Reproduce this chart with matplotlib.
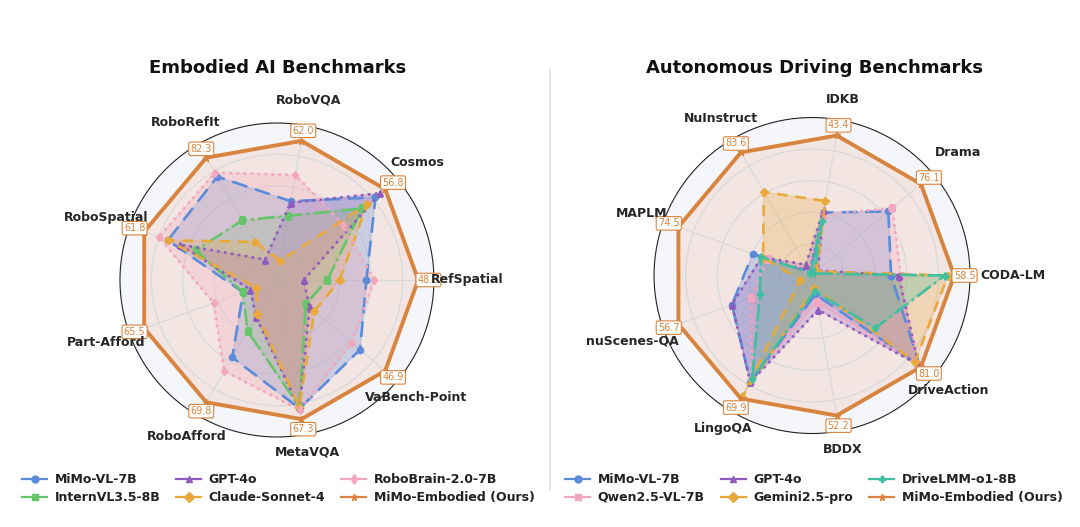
import numpy as np
import matplotlib
matplotlib.use("Agg")
import matplotlib.pyplot as plt
from matplotlib.lines import Line2D

# ---------------- data ----------------
emb_axes = ["RefSpatial", "Cosmos", "RoboVQA", "RoboRefIt", "RoboSpatial",
            "Part-Afford", "RoboAfford", "MetaVQA", "VaBench-Point"]
emb_ours = [48.0, 56.8, 62.0, 82.3, 61.8, 65.5, 69.8, 67.3, 46.9]
emb_mimo_vl = [30.4, 51.7, 35.1, 69.5, 50.8, 16.7, 44.2, 62.1, 36.0]
emb_internvl = [17.1, 44.8, 28.6, 40.2, 37.8, 16.7, 29.1, 61.3, 12.5]
emb_gpt4o = [9.1, 54.3, 34.4, 13.7, 45.3, 13.1, 20.9, 62.1, 14.1]
emb_claude = [21.3, 47.3, 8.6, 25.6, 50.8, 10.2, 19.4, 61.3, 16.2]
emb_robobrain = [33.1, 34.7, 46.8, 72.2, 54.9, 31.3, 52.0, 62.8, 32.3]

drv_axes = ["CODA-LM", "Drama", "IDKB", "NuInstruct", "MAPLM",
            "nuScenes-QA", "LingoQA", "BDDX", "DriveAction"]
drv_ours = [58.5, 76.1, 43.4, 83.6, 74.5, 56.7, 69.9, 52.2, 81.0]
drv_mimo_vl = [32.5, 53.3, 19.5, 2.8, 33.1, 34.0, 60.6, 7.0, 80.1]
drv_qwen = [36.4, 56.2, 18.8, 4.6, 24.8, 25.8, 59.8, 9.9, 78.3]
drv_gpt4o = [35.6, 4.2, 20.3, 7.4, 28.1, 34.0, 60.6, 12.8, 79.2]
drv_gemini = [55.9, 3.4, 23.1, 56.7, 27.3, 5.0, 68.7, 4.6, 76.5]
drv_drivelmm = [54.6, 1.7, 16.9, 1.9, 28.6, 22.1, 59.0, 5.8, 46.8]

# label distance from centre (in units of the outer circle radius)
emb_label_r = [1.21, 1.165, 1.165, 1.16, 1.16, 1.16, 1.15, 1.115, 1.16]
drv_label_r = [1.27, 1.21, 1.13, 1.15, 1.15, 1.21, 1.12, 1.12, 1.13]

# ---------------- styles ----------------
BLUE = "#5B8BD9"
GREEN = "#66C46A"
PURPLE = "#8E5BBE"
GOLD = "#E9A93A"
PINK = "#F4A7BB"
ORANGE = "#D9843E"
TEAL = "#3FBF9F"
QPINK = "#F2A7C0"

emb_series = [
    ("MiMo-VL-7B", emb_mimo_vl, BLUE, (0, (6, 3)), "o"),
    ("InternVL3.5-8B", emb_internvl, GREEN, "-.", "s"),
    ("GPT-4o", emb_gpt4o, PURPLE, ":", "^"),
    ("Claude-Sonnet-4", emb_claude, GOLD, (0, (4, 3)), "D"),
    ("RoboBrain-2.0-7B", emb_robobrain, PINK, ":", "d"),
    ("MiMo-Embodied (Ours)", emb_ours, ORANGE, "-", "*"),
]
drv_series = [
    ("MiMo-VL-7B", drv_mimo_vl, BLUE, (0, (6, 3)), "o"),
    ("Qwen2.5-VL-7B", drv_qwen, QPINK, ":", "s"),
    ("GPT-4o", drv_gpt4o, PURPLE, ":", "^"),
    ("Gemini2.5-pro", drv_gemini, GOLD, (0, (4, 3)), "D"),
    ("DriveLMM-o1-8B", drv_drivelmm, TEAL, "-.", "P"),
    ("MiMo-Embodied (Ours)", drv_ours, ORANGE, "-", "*"),
]

plt.rcParams["font.family"] = ["DejaVu Sans"]
fig = plt.figure(figsize=(10.8, 5.27), dpi=100)


def radar(rect, axes_names, series, ours, label_r):
    ax = fig.add_axes(rect, projection="polar")
    n = len(axes_names)
    ang = np.arange(n) * 2 * np.pi / n
    ours_arr = np.array(ours, dtype=float)
    ax.set_facecolor("#F5F6F9")
    ax.set_ylim(0, 1.0)
    ax.set_yticks([0.2, 0.4, 0.6, 0.8])
    ax.set_yticklabels([])
    ax.set_xticks(ang)
    ax.set_xticklabels([])
    ax.grid(color="#D8D8D8", lw=0.8)
    ax.spines["polar"].set_color("#222222")
    ax.spines["polar"].set_linewidth(0.8)
    ax.tick_params(axis="x", length=0)
    for name, vals, col, ls, mk in series:
        r = np.array(vals, dtype=float) / ours_arr * 0.9
        th = np.append(ang, ang[0])
        rr = np.append(r, r[0])
        if name.startswith("MiMo-Embodied"):
            ax.fill(th, rr, color="#E9A58A", alpha=0.2, zorder=1)
            ax.plot(th, rr, color=col, lw=2.8, ls=ls, marker=mk, ms=5,
                    zorder=6)
        else:
            ax.fill(th, rr, color=col, alpha=0.26, zorder=2)
            ax.plot(th, rr, color=col, lw=1.9, ls=ls, marker=mk, ms=4.5,
                    zorder=4)
    for a, v in zip(ang, ours):
        ax.text(a, 0.965, f"{v:.1f}", ha="center", va="center", fontsize=7,
                color=ORANGE, zorder=8,
                bbox=dict(boxstyle="round,pad=0.18", fc="white", ec=ORANGE,
                          lw=0.8))
    for a, nm, lr in zip(ang, axes_names, label_r):
        ax.text(a, lr, nm, ha="center", va="center", fontsize=9,
                fontweight="bold", color="#262626", clip_on=False, zorder=9)
    return ax


radar([0.1111, 0.1708, 0.2907, 0.5958], emb_axes, emb_series, emb_ours,
      emb_label_r)
radar([0.6056, 0.1774, 0.2926, 0.5996], drv_axes, drv_series, drv_ours,
      drv_label_r)

fig.text(0.257, 0.871, "Embodied AI Benchmarks", ha="center", va="center",
         fontsize=13, fontweight="bold", color="#111111")
fig.text(0.754, 0.871, "Autonomous Driving Benchmarks", ha="center",
         va="center", fontsize=13, fontweight="bold", color="#111111")

# separator
fig.add_artist(Line2D([0.509, 0.509], [0.07, 0.87], color="#E3E3E3", lw=1.2,
                      transform=fig.transFigure))


def legend(series, anchor):
    handles = [Line2D([], [], color=c, lw=1.6, marker=m, ms=5, label=n)
               for n, v, c, ls, m in series]
    fig.legend(handles=handles, loc="upper left", bbox_to_anchor=anchor,
               ncol=3, frameon=False,
               prop=dict(weight="bold", size=9), handlelength=2.0,
               columnspacing=1.28, handletextpad=0.6, labelspacing=0.4,
               labelcolor="#222222")


legend(emb_series, (0.010, 0.124))
legend(drv_series, (0.513, 0.124))

fig.savefig("out.png", dpi=100, facecolor="white")
